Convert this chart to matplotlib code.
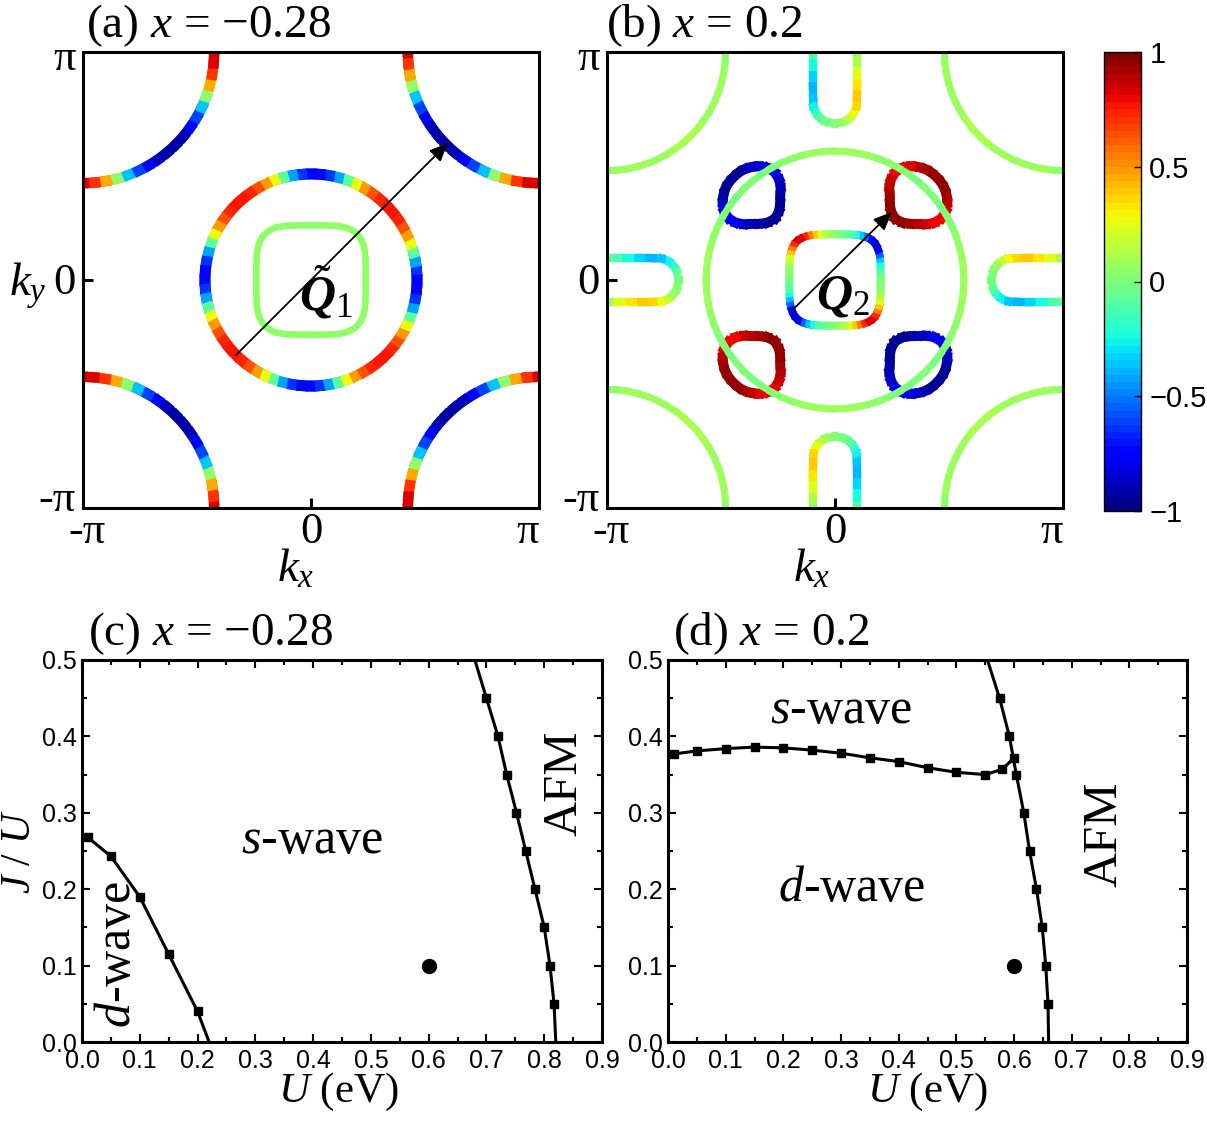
import numpy as np
import matplotlib
matplotlib.use('Agg')
import matplotlib.pyplot as plt
from matplotlib.collections import LineCollection
from matplotlib.colors import Normalize
from matplotlib.cm import ScalarMappable
from matplotlib.ticker import MultipleLocator, FormatStrFormatter

plt.rcParams['font.family'] = ['Liberation Serif', 'DejaVu Serif']
plt.rcParams['mathtext.fontset'] = 'custom'
plt.rcParams['mathtext.rm'] = 'Liberation Serif'
plt.rcParams['mathtext.it'] = 'Liberation Serif:italic'
plt.rcParams['mathtext.bf'] = 'Liberation Serif:italic:bold'

# ---------------- data (k in units of pi, colour value in [-1, 1]) ----------------
OCT_ANG = [0, 5, 10, 15, 20, 25, 30, 35, 40, 45]          # octant angles (deg)

# panel (a), x = -0.28
A_CIRCLE_R = 0.465
A_CIRCLE_VAL = [-0.75, -0.72, -0.55, -0.30, 0.15, 0.40, 0.58, 0.70, 0.76, 0.78]
A_SQUARE_R = [0.240, 0.241, 0.244, 0.248, 0.254, 0.262, 0.270, 0.278, 0.283, 0.285]
A_SQUARE_VAL = 0.06
A_ARC_R = 0.575
A_ARC_VAL = [0.85, 0.80, 0.60, 0.30, -0.20, -0.50, -0.70, -0.85, -0.92, -0.95]
A_ARROW = [(-0.33, -0.33), (0.60, 0.60)]
A_QPOS = (0.068, -0.055)

# panel (b), x = 0.2
B_CIRCLE_R = 0.565
B_CIRCLE_VAL = [0.09, 0.09, 0.08, 0.07, 0.05, 0.03, 0.01, -0.01, 0.0, 0.01]
B_SQUARE_R = [0.200, 0.201, 0.203, 0.207, 0.212, 0.218, 0.225, 0.231, 0.236, 0.238]
B_SQUARE_VAL = [0.0, -0.02, -0.05, -0.10, -0.15, -0.30, -0.45, -0.65, -0.80, -0.85]
B_ARC_R = 0.52
B_ARC_VAL = [0.06, 0.06, 0.07, 0.07, 0.08, 0.08, 0.09, 0.09, 0.10, 0.10]
B_POCKET_CENTER = (0.366, 0.372)
B_POCKET_PSI = [0, 15, 30, 45, 60, 75, 90, 105, 120, 135, 150, 165, 180]
B_POCKET_R = [0.112, 0.114, 0.118, 0.123, 0.131, 0.139, 0.143, 0.139, 0.132, 0.126, 0.130, 0.139, 0.145]
B_POCKET_VAL = [0.95, 0.95, 0.93, 0.90, 0.85, 0.80, 0.80, 0.82, 0.87, 0.92, 0.95, 0.96, 0.96]
B_U_DEPTH = [-0.05, 0.0, 0.05, 0.10, 0.15, 0.20, 0.24, 0.27, 0.29, 0.305, 0.314]
B_U_HALFW = [0.097, 0.097, 0.097, 0.097, 0.097, 0.096, 0.094, 0.081, 0.064, 0.041, 0.0]
B_U_VAL = [-0.05, -0.05, -0.15, -0.30, -0.38, -0.38, -0.33, -0.22, -0.12, -0.05, 0.0]
B_ARROW = [(-0.19, -0.135), (0.249, 0.298)]
B_QPOS = (0.035, -0.07)

CBAR_TICKS = [-1, -0.5, 0, 0.5, 1]
CBAR_LABELS = ['\u22121', '\u22120.5', '0', '0.5', '1']

# panel (c), x = -0.28
C_D_U = [0.01, 0.05, 0.10, 0.15, 0.20, 0.22]
C_D_J = [0.268, 0.243, 0.19, 0.115, 0.04, 0.0]
C_AFM_U = [0.68, 0.70, 0.72, 0.735, 0.752, 0.768, 0.784, 0.800, 0.810, 0.817, 0.820]
C_AFM_J = [0.50, 0.45, 0.40, 0.35, 0.30, 0.25, 0.20, 0.15, 0.10, 0.05, 0.0]
# panel (d), x = 0.2
D_SD_U = [0.01, 0.05, 0.10, 0.15, 0.20, 0.25, 0.30, 0.35, 0.40, 0.45, 0.50, 0.55, 0.58, 0.60]
D_SD_J = [0.377, 0.381, 0.384, 0.386, 0.385, 0.382, 0.378, 0.372, 0.367, 0.359, 0.353, 0.350, 0.357, 0.372]
D_AFM_U = [0.554, 0.575, 0.592, 0.604, 0.617, 0.627, 0.639, 0.649, 0.655, 0.659, 0.660]
D_AFM_J = [0.50, 0.45, 0.40, 0.35, 0.30, 0.25, 0.20, 0.15, 0.10, 0.05, 0.0]
DOT_U = [0.6]
DOT_J = [0.1]

# ---------------- figure ----------------
W, H = 1207, 1121
fig = plt.figure(figsize=(W / 100, H / 100), dpi=100)
CMAP = plt.get_cmap('jet', 64)
NORM = Normalize(-1, 1)


def px_axes(l, t, r, b):
    return fig.add_axes([l / W, 1 - b / H, (r - l) / W, (b - t) / H])


def T(x, y, s, **kw):
    return fig.text(x / W, 1 - y / H, s, **kw)


ALPHA = np.arange(0, 365, 5)


def octant(vals, alpha):
    t = np.mod(alpha, 90)
    f = np.minimum(t, 90 - t)
    idx = np.round(f / 5).astype(int)
    return np.asarray(vals, dtype=float)[idx]


def dxy_sign(alpha):
    q = (np.floor(np.mod(alpha, 360) / 90).astype(int)) % 2
    return np.where(q == 0, 1.0, -1.0)


def draw_colored(ax, x, y, v, lw, z):
    pts = np.column_stack([x, y])
    segs = np.stack([pts[:-1], pts[1:]], axis=1)
    v = np.asarray(v, dtype=float)
    vals = 0.5 * (v[:-1] + v[1:])
    lc = LineCollection(segs, cmap=CMAP, norm=NORM, linewidths=lw,
                        capstyle='projecting', joinstyle='miter', zorder=z)
    lc.set_array(vals)
    ax.add_collection(lc)


def setup_bz(ax):
    ax.set_xlim(-1, 1)
    ax.set_ylim(-1, 1)
    ax.set_xticks([0])
    ax.set_yticks([0])
    ax.tick_params(direction='in', length=7, width=2.2, labelbottom=False, labelleft=False)
    for s in ax.spines.values():
        s.set_linewidth(2.2)
        s.set_zorder(10)


# ---- panel (a)
axa = px_axes(83, 52, 539, 508)
setup_bz(axa)
rad = np.deg2rad(ALPHA)
for cx, cy in [(1, 1), (-1, 1), (-1, -1), (1, -1)]:
    draw_colored(axa, cx + A_ARC_R * np.cos(rad), cy + A_ARC_R * np.sin(rad),
                 octant(A_ARC_VAL, ALPHA), 7.5, 2)
draw_colored(axa, A_CIRCLE_R * np.cos(rad), A_CIRCLE_R * np.sin(rad),
             octant(A_CIRCLE_VAL, ALPHA), 7.8, 3)
rs = octant(A_SQUARE_R, ALPHA)
draw_colored(axa, rs * np.cos(rad), rs * np.sin(rad),
             np.full(len(ALPHA), A_SQUARE_VAL), 4.5, 3)
axa.annotate('', xy=A_ARROW[1], xytext=A_ARROW[0],
             arrowprops=dict(arrowstyle='-|>,head_length=0.5,head_width=0.22', color='k',
                             lw=1.3, shrinkA=0, shrinkB=0, mutation_scale=22), zorder=5)
axa.text(A_QPOS[0], A_QPOS[1], r'$\tilde{\mathbf{Q}}_{1}$', fontsize=36, ha='center', va='center', zorder=6)

# ---- panel (b)
axb = px_axes(607, 52, 1063, 508)
setup_bz(axb)
for cx, cy in [(1, 1), (-1, 1), (-1, -1), (1, -1)]:
    draw_colored(axb, cx + B_ARC_R * np.cos(rad), cy + B_ARC_R * np.sin(rad),
                 octant(B_ARC_VAL, ALPHA), 5.0, 2)
u = np.asarray(B_U_DEPTH)
w = np.asarray(B_U_HALFW)
uv = np.asarray(B_U_VAL)
ux = np.concatenate([-w, w[::-1][1:]])
uy = np.concatenate([1 - u, (1 - u)[::-1][1:]])
uval = np.concatenate([uv, -uv[::-1][1:]])
for px_, py_, pv in [(ux, uy, uval), (-ux, -uy, uval), (uy, -ux, -uval), (-uy, ux, -uval)]:
    draw_colored(axb, px_, py_, pv, 6.0, 2)
psi = np.asarray(B_POCKET_PSI, dtype=float)
pr = np.asarray(B_POCKET_R)
pvl = np.asarray(B_POCKET_VAL)
alpha_p = np.deg2rad(np.concatenate([45 + psi, (45 - psi)[::-1][1:]]))
r_p = np.concatenate([pr, pr[::-1][1:]])
v_p = np.concatenate([pvl, pvl[::-1][1:]])
qx = B_POCKET_CENTER[0] + r_p * np.cos(alpha_p)
qy = B_POCKET_CENTER[1] + r_p * np.sin(alpha_p)
for sx, sy, sv in [(1, 1, 1), (-1, 1, -1), (-1, -1, 1), (1, -1, -1)]:
    draw_colored(axb, sx * qx, sy * qy, sv * v_p, 7.0, 3)
rs = octant(B_SQUARE_R, ALPHA)
draw_colored(axb, rs * np.cos(rad), rs * np.sin(rad),
             octant(B_SQUARE_VAL, ALPHA) * dxy_sign(ALPHA), 5.5, 3)
draw_colored(axb, B_CIRCLE_R * np.cos(rad), B_CIRCLE_R * np.sin(rad),
             octant(B_CIRCLE_VAL, ALPHA), 5.0, 4)
axb.annotate('', xy=B_ARROW[1], xytext=B_ARROW[0],
             arrowprops=dict(arrowstyle='-|>,head_length=0.5,head_width=0.22', color='k',
                             lw=1.3, shrinkA=0, shrinkB=0, mutation_scale=22), zorder=5)
axb.text(B_QPOS[0], B_QPOS[1], r'$\mathbf{Q}_{2}$', fontsize=36, ha='center', va='center', zorder=6)

# tick labels of BZ panels
for ax_left, ax_right in [(83, 539), (607, 1063)]:
    T(ax_left - 7, 70, '\u03c0', fontsize=32, ha='right', va='baseline')
    T(ax_left - 7, 294, '0', fontsize=32, ha='right', va='baseline')
    T(ax_left - 7, 511, '-\u03c0', fontsize=32, ha='right', va='baseline')
    T(ax_left + 4, 543, '-\u03c0', fontsize=32, ha='center', va='baseline')
    T((ax_left + ax_right) / 2, 543, '0', fontsize=32, ha='center', va='baseline')
    T(ax_right, 543, '\u03c0', fontsize=32, ha='right', va='baseline')
T(296, 582, r'$k_x$', fontsize=34, ha='center', va='baseline')
T(812, 582, r'$k_x$', fontsize=34, ha='center', va='baseline')
T(9, 296, r'$k_y$', fontsize=34, ha='left', va='baseline')

# colorbar
cax = px_axes(1104, 52, 1141, 511)
cb = fig.colorbar(ScalarMappable(norm=NORM, cmap=CMAP), cax=cax, ticks=CBAR_TICKS)
cb.ax.set_yticklabels(CBAR_LABELS)
cb.ax.tick_params(direction='in', length=5, width=1, pad=6, labelsize=21)
for lab in cb.ax.get_yticklabels():
    lab.set_fontfamily('Liberation Sans')
cb.outline.set_linewidth(1.0)

# titles
T(86, 37, r'(a) $x$ = $-$0.28', fontsize=34, ha='left', va='baseline')
T(606, 37, r'(b) $x$ = 0.2', fontsize=34, ha='left', va='baseline')
T(88, 645, r'(c) $x$ = $-$0.28', fontsize=34, ha='left', va='baseline')
T(673, 645, r'(d) $x$ = 0.2', fontsize=34, ha='left', va='baseline')


# ---- phase diagrams
def setup_phase(ax):
    ax.set_xlim(0, 0.9)
    ax.set_ylim(0, 0.5)
    ax.xaxis.set_major_locator(MultipleLocator(0.1))
    ax.xaxis.set_minor_locator(MultipleLocator(0.05))
    ax.yaxis.set_major_locator(MultipleLocator(0.1))
    ax.yaxis.set_minor_locator(MultipleLocator(0.05))
    ax.xaxis.set_major_formatter(FormatStrFormatter('%.1f'))
    ax.yaxis.set_major_formatter(FormatStrFormatter('%.1f'))
    ax.tick_params(which='both', direction='in', top=True, right=True, width=1.5, labelsize=18)
    ax.tick_params(which='major', length=6)
    ax.tick_params(axis='x', which='major', pad=5)
    ax.tick_params(axis='y', which='major', pad=4)
    ax.tick_params(which='minor', length=3.5)
    for lab in ax.get_xticklabels() + ax.get_yticklabels():
        lab.set_fontfamily('Liberation Sans')
    for s in ax.spines.values():
        s.set_linewidth(2.2)


axc = px_axes(82, 660, 602, 1042)
setup_phase(axc)
axc.plot(C_D_U, C_D_J, '-', color='k', lw=2.2, marker='s', ms=6, markevery=[0, 1, 2, 3, 4])
axc.plot(C_AFM_U, C_AFM_J, '-', color='k', lw=2.2, marker='s', ms=6, markevery=list(range(1, 10)))
axc.plot(DOT_U, DOT_J, 'o', color='k', ms=10)
axc.text(0.398, 0.264, r'$s$-wave', fontsize=36, ha='center', va='center')
axc.text(0.062, 0.115, r'$d$-wave', fontsize=36, ha='center', va='center', rotation=90)
axc.text(0.835, 0.338, 'AFM', fontsize=35, ha='center', va='center', rotation=90)

axd = px_axes(668, 660, 1187, 1042)
setup_phase(axd)
axd.plot(D_SD_U, D_SD_J, '-', color='k', lw=2.2, marker='s', ms=6)
axd.plot(D_AFM_U, D_AFM_J, '-', color='k', lw=2.2, marker='s', ms=6, markevery=list(range(1, 10)))
axd.plot(DOT_U, DOT_J, 'o', color='k', ms=10)
axd.text(0.30, 0.434, r'$s$-wave', fontsize=36, ha='center', va='center')
axd.text(0.318, 0.201, r'$d$-wave', fontsize=36, ha='center', va='center')
axd.text(0.757, 0.272, 'AFM', fontsize=35, ha='center', va='center', rotation=90)

T(338, 1102, r'$U$ (eV)', fontsize=31, ha='center', va='baseline')
T(927, 1102, r'$U$ (eV)', fontsize=31, ha='center', va='baseline')
T(20, 851, r'$J$ / $U$', fontsize=30, ha='center', va='center', rotation=90)

fig.savefig('out.png', dpi=100)
